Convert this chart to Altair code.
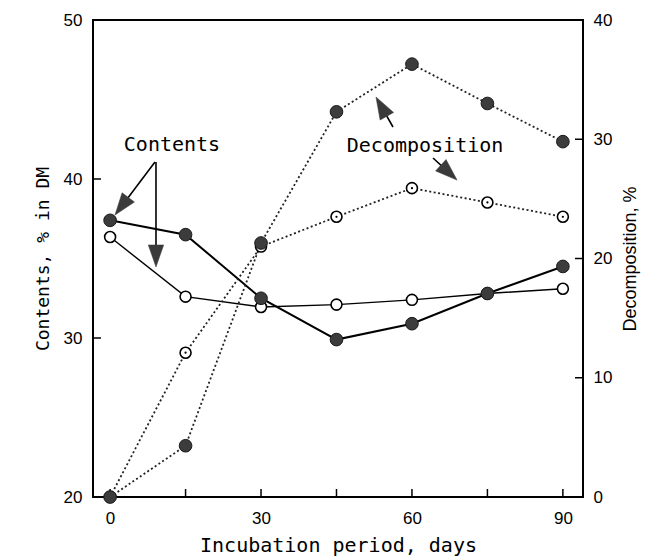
import altair as alt
import pandas as pd

# Incubation days and measured series
days = [0, 15, 30, 45, 60, 75, 90]
contents_filled = [37.4, 36.5, 32.5, 29.9, 30.9, 32.8, 34.5]
contents_open = [36.35, 32.6, 31.95, 32.1, 32.4, 32.8, 33.1]
decomp_filled = [0.0, 4.3, 21.3, 32.3, 36.3, 33.0, 29.8]
decomp_open = [0.0, 12.1, 21.0, 23.5, 25.9, 24.7, 23.5]

# Axis ticks
x_labels = [0, 30, 60, 90]
x_ticks = [0, 15, 30, 45, 60, 75, 90]
left_ticks = [20, 30, 40, 50]
right_ticks = [0, 10, 20, 30, 40]

# Annotation labels and arrows (days, left-axis units)
ann_text = ["Contents", "Decomposition"]
ann_text_day = [12.3, 62.6]
ann_text_val = [42.14, 42.08]
arrow_day = [8.92, 9.12, 56.23, 64.19]
arrow_val = [41.07, 41.07, 43.27, 41.32]
head_day = [2.29, 9.12, 53.93, 67.35]
head_val = [38.29, 35.16, 44.55, 40.40]
head_angle = [217, 180, 330.5, 132.5]

W, H = 490, 477
X_DOM = [-3.4, 94]


def frame(values):
    return pd.DataFrame({"day": days, "value": values})


cf = frame(contents_filled)
co = frame(contents_open)
df_ = frame(decomp_filled)
do = frame(decomp_open)

x_axis = alt.Axis(
    values=x_labels, ticks=False, domain=False, grid=False,
    labelFont="Liberation Sans", labelFontSize=17, labelPadding=13,
    labelColor="black", title="Incubation period, days",
    titleFont="DejaVu Sans Mono", titleFontSize=20, titleFontWeight="normal",
    titleColor="black", titlePadding=9,
)
X = alt.X("day:Q", scale=alt.Scale(domain=X_DOM, nice=False, zero=False), axis=x_axis)

left_axis = alt.Axis(
    values=left_ticks, ticks=False, domain=False, grid=False,
    labelFont="Liberation Sans", labelFontSize=17, labelPadding=11,
    labelColor="black", title="Contents, % in DM",
    titleFont="DejaVu Sans Mono", titleFontSize=18, titleFontWeight="normal",
    titleColor="black", titlePadding=11,
)
YL = alt.Y("value:Q", scale=alt.Scale(domain=[20, 50], nice=False, zero=False), axis=left_axis)

right_axis = alt.Axis(
    values=right_ticks, orient="right", ticks=False, domain=False, grid=False,
    labelFont="Liberation Sans", labelFontSize=17, labelPadding=10,
    labelColor="black", title="Decomposition, %",
    titleFont="Liberation Sans", titleFontSize=18, titleFontWeight="normal",
    titleColor="black", titlePadding=28, titleAngle=270,
)
YR = alt.Y("value:Q", scale=alt.Scale(domain=[0, 40], nice=False, zero=True), axis=right_axis)

# Inward tick marks
bottom_ticks = alt.Chart(pd.DataFrame({"day": x_ticks})).mark_rule(
    color="black", strokeWidth=1.5
).encode(x=X, y=alt.value(H), y2=alt.value(H - 8))

left_tick_marks = alt.Chart(pd.DataFrame({"value": left_ticks})).mark_rule(
    color="black", strokeWidth=1.5
).encode(y=YL, x=alt.value(0), x2=alt.value(8))

right_tick_marks = alt.Chart(pd.DataFrame({"value": right_ticks})).mark_rule(
    color="black", strokeWidth=1.5
).encode(y=YR, x=alt.value(W - 8), x2=alt.value(W))

filled_style = dict(shape="circle", filled=True, size=160, fill="#3c3c3c",
                    stroke="#1a1a1a", strokeWidth=1, opacity=1)
open_style = dict(shape="circle", filled=True, size=120, fill="white",
                  stroke="black", strokeWidth=1.6, opacity=1)

# Contents (left axis, solid lines)
c_line_open = alt.Chart(co).mark_line(color="black", strokeWidth=1.4).encode(x=X, y=YL)
c_line_filled = alt.Chart(cf).mark_line(color="black", strokeWidth=2).encode(x=X, y=YL)
c_pts_open = alt.Chart(co).mark_point(**open_style).encode(x=X, y=YL)
c_pts_filled = alt.Chart(cf).mark_point(**filled_style).encode(x=X, y=YL)

# Annotations
ann_df = pd.DataFrame({"day": ann_text_day, "value": ann_text_val, "label": ann_text})
ann_labels = alt.Chart(ann_df).mark_text(
    font="DejaVu Sans Mono", fontSize=20, color="black"
).encode(x=X, y=YL, text="label:N")

arrow_df = pd.DataFrame({
    "day": arrow_day, "value": arrow_val,
    "day2": head_day, "value2": head_val, "angle": head_angle,
})
arrow_shafts = alt.Chart(arrow_df).mark_rule(color="black", strokeWidth=1.6).encode(
    x=X, y=YL, x2="day2:Q", y2="value2:Q"
)
heads_df = pd.DataFrame({"day": head_day, "value": head_val, "angle": head_angle})
arrow_heads = alt.Chart(heads_df).mark_point(
    shape="M0,-1L0.7,1L-0.7,1Z", filled=True, size=484, fill="#3a3a3a",
    stroke="#3a3a3a", strokeWidth=0.5, opacity=1
).encode(x=X, y=YL, angle=alt.Angle("angle:Q", scale=None))

contents = alt.layer(
    bottom_ticks, left_tick_marks,
    c_line_open, c_line_filled, c_pts_open, c_pts_filled,
    arrow_shafts, arrow_heads, ann_labels,
)

# Decomposition (right axis, dotted lines)
dash = [2, 2.5]
d_line_open = alt.Chart(do).mark_line(color="#222222", strokeWidth=1.8, strokeDash=dash).encode(x=X, y=YR)
d_line_filled = alt.Chart(df_).mark_line(color="#222222", strokeWidth=1.8, strokeDash=dash).encode(x=X, y=YR)
d_pts_open = alt.Chart(do).mark_point(**open_style).encode(x=X, y=YR)
d_pts_dot = alt.Chart(do).mark_point(shape="circle", filled=True, size=5, color="black", opacity=1).encode(x=X, y=YR)
d_pts_filled = alt.Chart(df_).mark_point(**filled_style).encode(x=X, y=YR)

decomposition = alt.layer(
    right_tick_marks, d_line_open, d_line_filled, d_pts_open, d_pts_dot, d_pts_filled
)

chart = alt.layer(contents, decomposition).resolve_scale(y="independent").properties(
    width=W, height=H, autosize="none",
    padding={"left": 93, "top": 20, "right": 85, "bottom": 63},
    background="white",
).configure_view(stroke="black", strokeWidth=2)

chart.save("out.html", embed_options={"renderer": "svg", "actions": False})
